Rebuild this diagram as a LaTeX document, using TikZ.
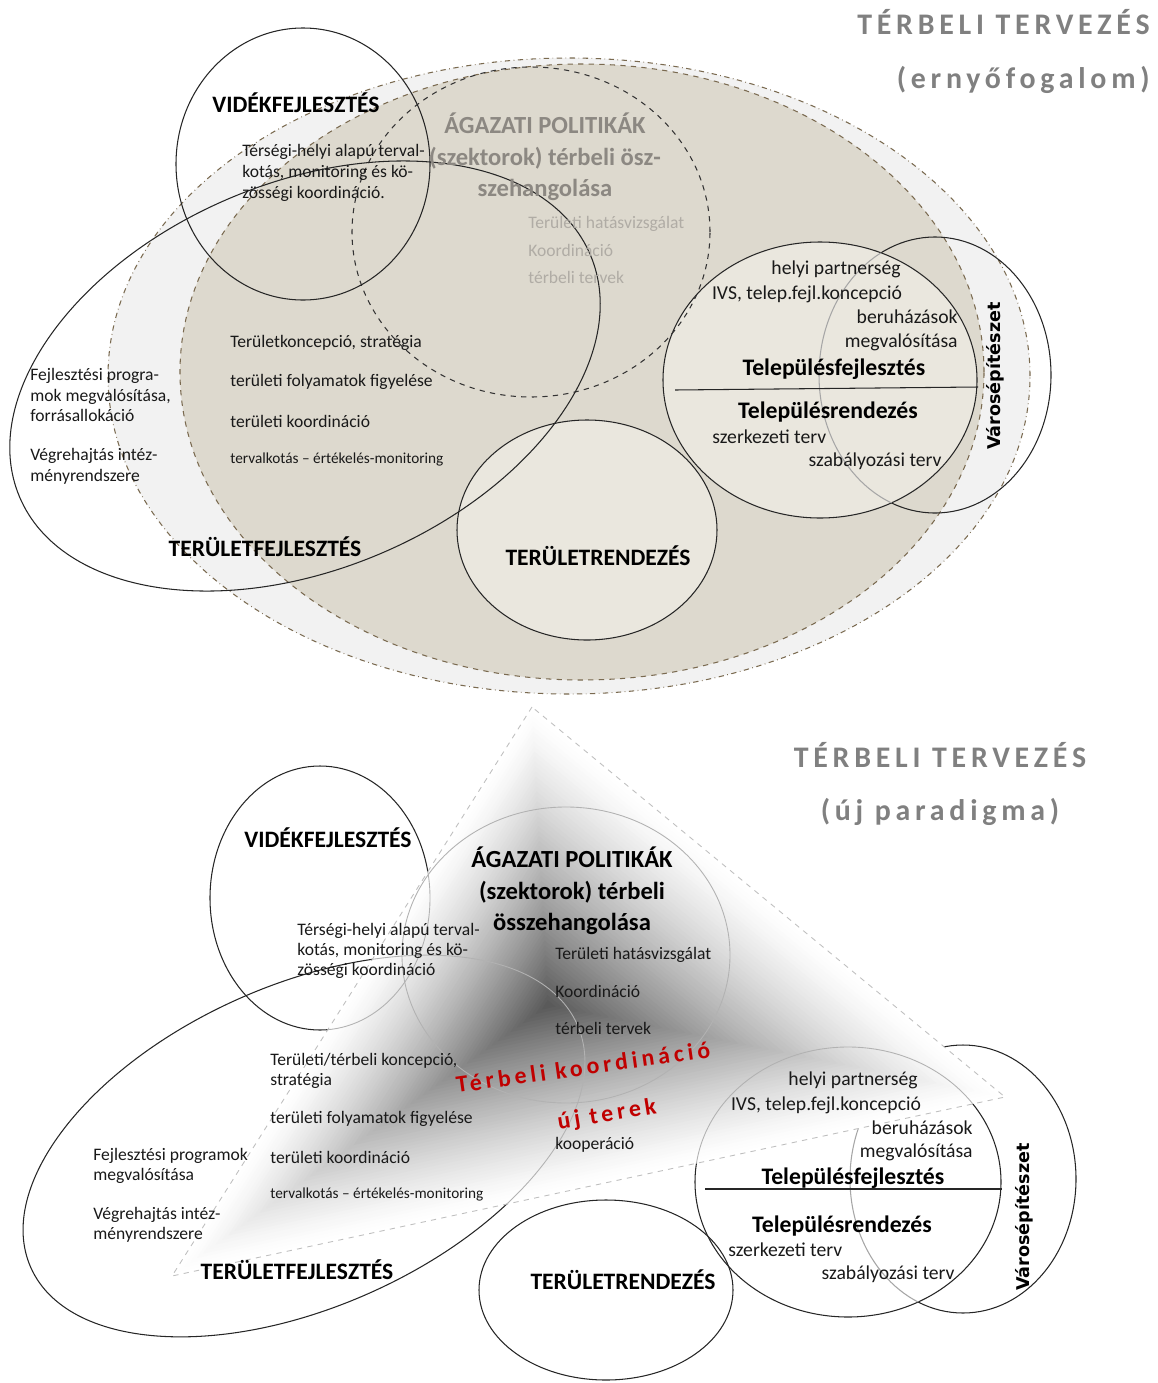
\documentclass[tikz,border=0pt]{standalone}
\usepackage{fontspec}
\setmainfont{Carlito}
\newfontfamily\titlefont[LetterSpace=16]{Carlito}
\newfontfamily\redfont[LetterSpace=17]{Carlito}
\newfontfamily\varfont{DejaVu Sans}
\usepackage{tikz}
\usetikzlibrary{calc}
\definecolor{umbrgrey}{HTML}{F2F2F2}
\definecolor{tanfill}{HTML}{DDD9CE}
\definecolor{tanlight}{HTML}{EAE7DE}
\definecolor{tanedge}{HTML}{7A6A50}
\definecolor{titlegrey}{HTML}{808080}
\definecolor{secgrey}{HTML}{8C8882}
\definecolor{itemgrey}{HTML}{B0ACA5}
\definecolor{coordred}{HTML}{C00000}

\begin{document}
\begin{tikzpicture}[x=0.02cm,y=0.02cm,
  txt/.style={font=\fontsize{10}{11.9}\selectfont,text=black!90,inner sep=0pt,align=left,anchor=west},
  loc/.style={font=\fontsize{11.2}{13}\selectfont,text=black!90,inner sep=0pt},
  tiny/.style={font=\fontsize{8.7}{10}\selectfont,text=black!90,inner sep=0pt,anchor=west},
  hd/.style={font=\bfseries\fontsize{13.4}{15}\selectfont,inner sep=0pt},
  sec/.style={font=\bfseries\fontsize{14}{17.9}\selectfont,inner sep=0pt,align=center},
  sub/.style={font=\bfseries\fontsize{13.5}{15}\selectfont,inner sep=0pt},
  ttl/.style={font=\titlefont\bfseries\fontsize{17}{20}\selectfont,text=titlegrey,inner sep=0pt},
  redtxt/.style={font=\redfont\bfseries\fontsize{13.5}{16}\selectfont,text=coordred,inner sep=0pt},
  varos/.style={font=\varfont\bfseries\fontsize{10}{12}\selectfont,inner sep=0pt,rotate=90},
  ring/.style={draw=black!85,line width=0.6pt},
  faint/.style={draw=black!30,line width=0.5pt}]
\useasboundingbox (0,0) rectangle (1158,-1383);

\fill[umbrgrey] (569,-376) ellipse [x radius=461, y radius=318];
\draw[tanedge,dash dot,line width=0.6pt] (569,-376) ellipse [x radius=461, y radius=318];
\filldraw[fill=tanfill,draw=tanedge,dashed,line width=0.6pt] (582,-372) ellipse [x radius=402, y radius=308];
\filldraw[fill=tanlight,ring] (587,-530) ellipse [x radius=130, y radius=110];
\draw[ring] (935,-375) ellipse [x radius=116, y radius=138];
\filldraw[fill=tanlight,ring] (820,-380) ellipse [x radius=157, y radius=138];
\begin{scope}
\clip (820,-380) ellipse [x radius=157, y radius=138];
\draw[draw=black!35,line width=0.6pt] (935,-375) ellipse [x radius=116, y radius=138];
\end{scope}
\draw[draw=black!80,dashed,line width=0.6pt] (531,-232) ellipse [x radius=179, y radius=165];
\draw[ring] (303,-164) ellipse [x radius=127, y radius=136];
\draw[ring,rotate around={23:(305,-376)}] (305,-376) ellipse [x radius=310, y radius=193];
\coordinate (lineAl) at (675,-390);
\coordinate (lineAr) at (978,-387);
\draw[ring] (lineAl) -- (lineAr);

\node[ttl,anchor=east] (ttlA) at (1150,-22) {TÉRBELI TERVEZÉS};
\node[ttl,anchor=east] (subA) at (1150,-80) {(ernyőfogalom)};
\node[hd] (vidA) at (296,-103) {VIDÉKFEJLESZTÉS};
\node[txt] (vidtxtA) at (242,-173) {Térségi-helyi alapú terval-\\kotás, monitoring és kö-\\zösségi koordináció.};
\node[sec,text=secgrey] (agA) at (545,-157) {ÁGAZATI POLITIKÁK\\(szektorok) térbeli ösz-\\szehangolása};
\node[txt,text=itemgrey,font=\fontsize{10}{15.9}\selectfont] (agitA) at (528,-250) {Területi hatásvizsgálat\\Koordináció\\térbeli tervek};
\node[loc] (partA) at (836,-269) {helyi partnerség};
\node[loc] (ivsA) at (807,-294) {IVS, telep.fejl.koncepció};
\node[loc,anchor=east] (beruA) at (958,-317) {beruházások};
\node[loc,anchor=east] (megvA) at (958,-342) {megvalósítása};
\node[sub] (tfA) at (834,-369) {Településfejlesztés};
\node[sub] (trA) at (828,-412) {Településrendezés};
\node[loc,anchor=west] (szerkA) at (712,-437) {szerkezeti terv};
\node[loc,anchor=east] (szabA) at (942,-461) {szabályozási terv};
\node[varos] (varA) at (995,-376) {Városépítészet};
\node[txt] (fejlA) at (30,-395) {Fejlesztési progra-\\mok megvalósítása,\\forrásallokáció};
\node[txt] (vegrA) at (30,-466.5) {Végrehajtás intéz-\\ményrendszere};
\node[txt] (tk1A) at (230,-343) {Területkoncepció, stratégia};
\node[txt] (tk2A) at (230,-382) {területi folyamatok figyelése};
\node[txt] (tk3A) at (230,-421) {területi koordináció};
\node[tiny] (tk4A) at (230,-459) {tervalkotás – értékelés-monitoring};
\node[hd] (tfjA) at (265,-547) {TERÜLETFEJLESZTÉS};
\node[hd] (trdA) at (598,-556) {TERÜLETRENDEZÉS};

\coordinate (ta) at (532,-707);
\coordinate (tl) at (172,-1276);
\coordinate (tr) at (1005,-1097);
\coordinate (tc) at (548,-1005);
\draw[ring] (320,-898) ellipse [x radius=110, y radius=132];
\draw[ring,rotate around={24:(304,-1146)}] (304,-1146) ellipse [x radius=299, y radius=161];
\draw[ring] (963,-1179) ellipse [x radius=113, y radius=134];
\fill[white] (848,-1182) ellipse [x radius=153, y radius=135];
\draw[ring] (848,-1182) ellipse [x radius=153, y radius=135];
\begin{scope}
\clip (848,-1182) ellipse [x radius=153, y radius=135];
\draw[draw=black!35,line width=0.6pt] (963,-1179) ellipse [x radius=113, y radius=134];
\end{scope}
\foreach \i in {60,...,1}{
  \pgfmathsetmacro\t{\i/60}
  \pgfmathsetmacro\g{66*(1-\t)^1.3}
  \fill[black!\g] ($(tc)!\t!(ta)$) -- ($(tc)!\t!(tl)$) -- ($(tc)!\t!(tr)$) -- cycle;
}
\begin{scope}
\clip (ta) -- (tl) -- (tr) -- cycle;
\draw[faint] (320,-898) ellipse [x radius=110, y radius=132];
\draw[faint] (566,-955) ellipse [x radius=164, y radius=148];
\draw[faint,rotate around={24:(304,-1146)}] (304,-1146) ellipse [x radius=299, y radius=161];
\draw[faint] (848,-1182) ellipse [x radius=153, y radius=135];
\end{scope}
\draw[draw=black!25,dashed,line width=0.5pt] (ta) -- (tl) -- (tr) -- cycle;
\draw[ring] (606,-1290) ellipse [x radius=127, y radius=90];
\coordinate (lineBl) at (705,-1189);
\coordinate (lineBr) at (1002,-1189);
\draw[ring] (lineBl) -- (lineBr);

\node[ttl] (ttlB) at (940,-755) {TÉRBELI TERVEZÉS};
\node[ttl] (subB) at (940,-812) {(új paradigma)};
\node[hd] (vidB) at (328,-838) {VIDÉKFEJLESZTÉS};
\node[sec] (agB) at (572,-891) {ÁGAZATI POLITIKÁK\\(szektorok) térbeli\\összehangolása};
\node[txt,font=\fontsize{10}{11.6}\selectfont] (vidtxtB) at (297,-951) {Térségi-helyi alapú terval-\\kotás, monitoring és kö-\\zösségi koordináció};
\node[txt,font=\fontsize{10}{21.3}\selectfont] (agitB) at (555,-991) {Területi hatásvizsgálat\\Koordináció\\térbeli tervek};
\node[redtxt,rotate=8] (koordB) at (583,-1067) {Térbeli koordináció};
\node[redtxt,rotate=9] (terekB) at (607,-1115) {új terek};
\node[txt] (koopB) at (555,-1145) {kooperáció};
\node[txt,font=\fontsize{10}{11.3}\selectfont] (tk1B) at (270,-1071) {Területi/térbeli koncepció,\\stratégia};
\node[txt] (tk2B) at (270,-1119) {területi folyamatok figyelése};
\node[txt] (tk3B) at (270,-1157) {területi koordináció};
\node[tiny] (tk4B) at (270,-1194) {tervalkotás – értékelés-monitoring};
\node[txt,font=\fontsize{10}{11.3}\selectfont] (fejlB) at (93,-1166) {Fejlesztési programok\\megvalósítása};
\node[txt,font=\fontsize{10}{11.6}\selectfont] (vegrB) at (93,-1224.5) {Végrehajtás intéz-\\ményrendszere};
\node[hd] (tfjB) at (297,-1270) {TERÜLETFEJLESZTÉS};
\node[hd] (trdB) at (623,-1280) {TERÜLETRENDEZÉS};
\node[loc] (partB) at (853,-1080) {helyi partnerség};
\node[loc] (ivsB) at (826,-1105) {IVS, telep.fejl.koncepció};
\node[loc,anchor=east] (beruB) at (973,-1128) {beruházások};
\node[loc,anchor=east] (megvB) at (973,-1152) {megvalósítása};
\node[sub] (tfB) at (853,-1178) {Településfejlesztés};
\node[sub] (trB) at (842,-1226) {Településrendezés};
\node[loc,anchor=west] (szerkB) at (728,-1250) {szerkezeti terv};
\node[loc,anchor=east] (szabB) at (955,-1274) {szabályozási terv};
\node[varos] (varB) at (1024,-1217) {Városépítészet};
\end{tikzpicture}
\end{document}
